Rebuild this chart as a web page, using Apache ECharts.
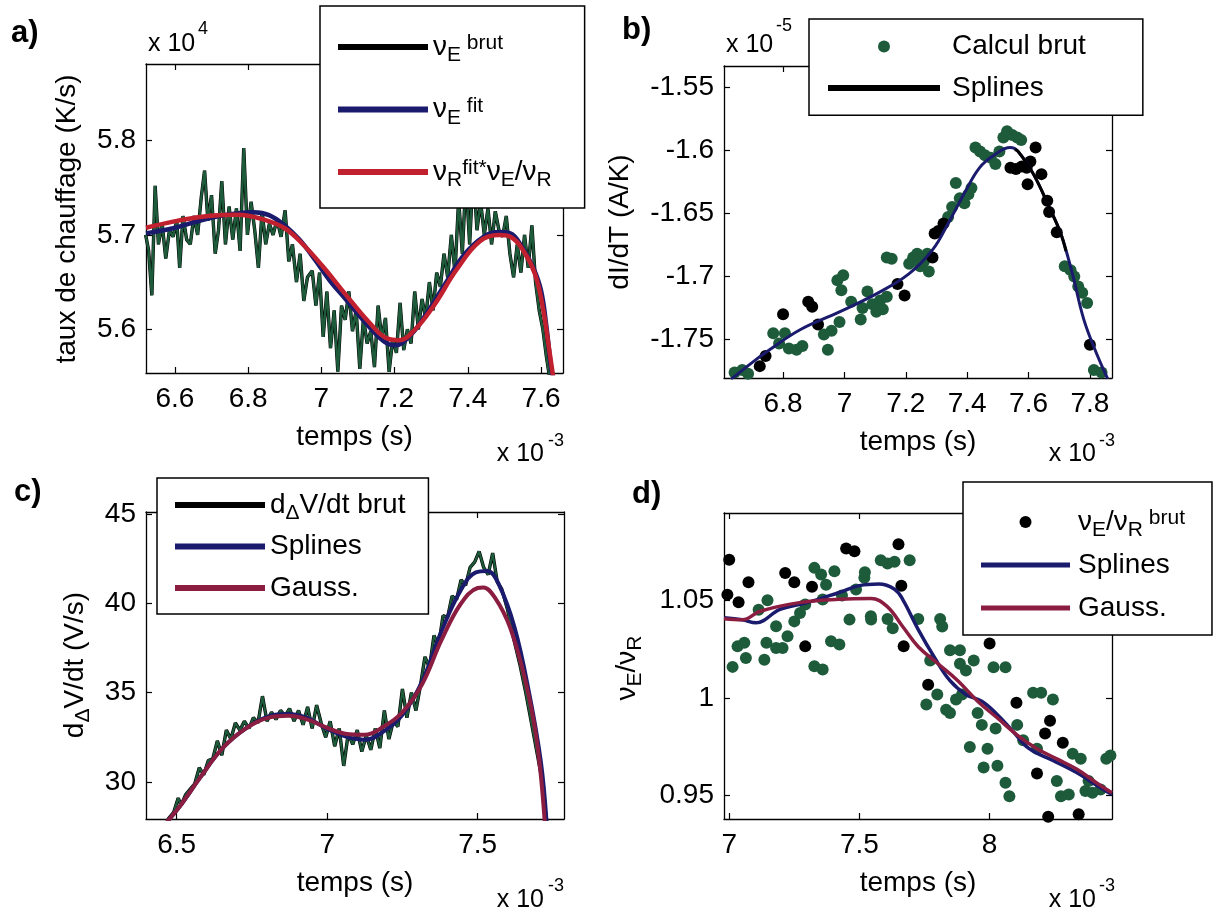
<!DOCTYPE html>
<html><head><meta charset="utf-8">
<script src="https://cdn.jsdelivr.net/npm/echarts@6/dist/echarts.min.js"></script>
<style>html,body{margin:0;padding:0;background:#fff}#c{width:1226px;height:909px}</style>
</head><body><div id="c"></div>
<script>
const FONT = '"Liberation Sans", Arial, Helvetica, sans-serif';

// ---------- Panel a : taux de chauffage (x 1e4 K/s) vs temps (x 1e-3 s)
const aTicksX = [6.6, 6.8, 7, 7.2, 7.4, 7.6];
const aTicksY = [5.6, 5.7, 5.8];
const aRaw = [[6.520,5.700],[6.528,5.684],[6.537,5.636],[6.546,5.752],[6.555,5.690],[6.565,5.712],[6.575,5.675],[6.585,5.705],[6.595,5.698],[6.605,5.715],[6.613,5.665],[6.622,5.720],[6.632,5.695],[6.642,5.690],[6.652,5.720],[6.662,5.700],[6.672,5.740],[6.681,5.768],[6.690,5.715],[6.700,5.742],[6.710,5.680],[6.719,5.705],[6.728,5.757],[6.738,5.690],[6.748,5.730],[6.758,5.695],[6.768,5.728],[6.778,5.683],[6.788,5.792],[6.798,5.700],[6.808,5.735],[6.818,5.705],[6.828,5.665],[6.838,5.725],[6.848,5.690],[6.858,5.712],[6.868,5.700],[6.879,5.716],[6.890,5.698],[6.901,5.726],[6.911,5.672],[6.921,5.690],[6.932,5.650],[6.942,5.680],[6.952,5.630],[6.962,5.655],[6.975,5.662],[6.985,5.625],[6.995,5.660],[7.005,5.592],[7.015,5.640],[7.025,5.580],[7.035,5.620],[7.045,5.555],[7.055,5.625],[7.065,5.610],[7.075,5.640],[7.085,5.598],[7.095,5.620],[7.105,5.558],[7.115,5.612],[7.125,5.585],[7.135,5.598],[7.145,5.560],[7.155,5.625],[7.165,5.590],[7.175,5.612],[7.185,5.555],[7.195,5.590],[7.205,5.575],[7.215,5.628],[7.225,5.578],[7.235,5.600],[7.245,5.585],[7.255,5.640],[7.265,5.600],[7.275,5.632],[7.285,5.612],[7.295,5.650],[7.305,5.620],[7.315,5.660],[7.325,5.645],[7.335,5.680],[7.345,5.655],[7.355,5.700],[7.365,5.660],[7.375,5.738],[7.385,5.680],[7.395,5.760],[7.405,5.690],[7.415,5.770],[7.425,5.705],[7.435,5.735],[7.445,5.700],[7.455,5.728],[7.465,5.690],[7.475,5.725],[7.485,5.705],[7.495,5.698],[7.505,5.720],[7.515,5.680],[7.525,5.655],[7.535,5.690],[7.545,5.660],[7.555,5.700],[7.565,5.665],[7.575,5.710],[7.585,5.650],[7.595,5.620],[7.605,5.600],[7.615,5.570],[7.625,5.545]];
const aFitE = [[6.521,5.7016],[6.595,5.707],[6.668,5.715],[6.752,5.722],[6.815,5.724],[6.857,5.721],[6.9,5.71],[6.94,5.695],[6.982,5.674],[7.024,5.651],[7.066,5.632],[7.118,5.608],[7.171,5.587],[7.202,5.583],[7.244,5.594],[7.286,5.616],[7.338,5.648],[7.39,5.679],[7.443,5.698],[7.485,5.703],[7.516,5.7016],[7.547,5.688],[7.579,5.665],[7.6,5.641],[7.615,5.602],[7.626,5.564],[7.632,5.550]];
const aFitR = [[6.521,5.7075],[6.595,5.714],[6.668,5.719],[6.731,5.721],[6.773,5.7214],[6.836,5.717],[6.9,5.707],[6.952,5.689],[7.003,5.667],[7.066,5.637],[7.129,5.608],[7.181,5.59],[7.212,5.5885],[7.254,5.599],[7.307,5.625],[7.369,5.663],[7.432,5.693],[7.485,5.6998],[7.516,5.698],[7.553,5.6825],[7.584,5.658],[7.605,5.623],[7.621,5.582],[7.633,5.550]];

// ---------- Panel b : dI/dT (x 1e-5 A/K)
const bTicksX = [6.8, 7, 7.2, 7.4, 7.6, 7.8];
const bTicksY = [-1.75, -1.7, -1.65, -1.6, -1.55];
const bGreen = [[6.642,-1.776],[6.667,-1.774],[6.686,-1.777],[6.768,-1.745],[6.787,-1.753],[6.806,-1.745],[6.819,-1.757],[6.844,-1.758],[6.863,-1.755],[6.933,-1.746],[6.946,-1.758],[6.958,-1.743],[6.984,-1.736],[6.977,-1.703],[6.996,-1.699],[6.99,-1.711],[7.022,-1.72],[7.053,-1.734],[7.059,-1.725],[7.075,-1.712],[7.091,-1.722],[7.104,-1.728],[7.116,-1.719],[7.125,-1.726],[7.138,-1.716],[7.138,-1.685],[7.154,-1.686],[7.211,-1.69],[7.224,-1.685],[7.237,-1.682],[7.247,-1.692],[7.259,-1.688],[7.275,-1.696],[7.27,-1.682],[7.338,-1.653],[7.351,-1.645],[7.363,-1.626],[7.376,-1.638],[7.391,-1.642],[7.404,-1.635],[7.414,-1.63],[7.427,-1.598],[7.442,-1.601],[7.458,-1.604],[7.477,-1.606],[7.492,-1.611],[7.505,-1.601],[7.518,-1.59],[7.53,-1.585],[7.547,-1.588],[7.563,-1.59],[7.576,-1.592],[7.718,-1.692],[7.737,-1.695],[7.749,-1.7],[7.762,-1.708],[7.775,-1.713],[7.791,-1.721],[7.813,-1.774],[7.838,-1.776]];
const bBlack = [[6.724,-1.771],[6.743,-1.763],[6.8,-1.73],[6.882,-1.72],[6.895,-1.724],[6.914,-1.738],[7.173,-1.706],[7.196,-1.715],[7.287,-1.685],[7.294,-1.666],[7.306,-1.664],[7.323,-1.658],[7.541,-1.614],[7.559,-1.615],[7.578,-1.613],[7.594,-1.614],[7.606,-1.609],[7.623,-1.598],[7.597,-1.627],[7.642,-1.619],[7.661,-1.64],[7.667,-1.649],[7.692,-1.665],[7.8,-1.754]];
const bSpline = [[6.63,-1.7815],[6.7,-1.768],[6.756,-1.758],[6.857,-1.742],[6.984,-1.728],[7.11,-1.713],[7.21,-1.698],[7.287,-1.679],[7.338,-1.658],[7.389,-1.635],[7.44,-1.614],[7.49,-1.6036],[7.54,-1.598],[7.566,-1.601],[7.616,-1.619],[7.667,-1.645],[7.705,-1.666],[7.743,-1.698],[7.78,-1.734],[7.82,-1.760],[7.858,-1.781]];
const bSplineDark = [[7.555,-1.5995],[7.566,-1.601],[7.616,-1.619],[7.667,-1.645],[7.705,-1.666],[7.722,-1.680]];

// ---------- Panel c : dΔV/dt (V/s)
const cTicksX = [6.5, 7, 7.5];
const cTicksY = [30, 35, 40, 45];
const cRaw = [[6.470,27.9],[6.490,28.3],[6.505,29.1],[6.515,28.7],[6.530,29.3],[6.545,29.6],[6.560,29.9],[6.575,30.8],[6.590,30.4],[6.605,31.2],[6.620,31.3],[6.635,32.3],[6.650,31.5],[6.665,32.9],[6.680,32.4],[6.695,33.3],[6.710,32.9],[6.725,33.4],[6.740,33.0],[6.755,33.6],[6.770,33.3],[6.785,34.8],[6.800,33.4],[6.815,33.9],[6.830,33.5],[6.845,34.0],[6.860,33.7],[6.875,34.1],[6.890,33.4],[6.905,34.0],[6.920,33.2],[6.935,34.2],[6.950,33.0],[6.965,34.3],[6.980,33.3],[6.995,32.5],[7.010,33.4],[7.025,32.0],[7.040,33.0],[7.055,30.9],[7.070,32.7],[7.085,32.1],[7.100,32.9],[7.115,31.7],[7.130,32.6],[7.145,31.8],[7.160,33.0],[7.175,31.9],[7.190,34.0],[7.205,32.4],[7.220,33.4],[7.235,33.1],[7.250,35.2],[7.265,33.6],[7.280,35.0],[7.295,34.0],[7.310,35.4],[7.325,37.0],[7.340,36.4],[7.355,38.2],[7.370,37.6],[7.385,39.3],[7.400,39.2],[7.415,40.4],[7.430,40.2],[7.445,41.3],[7.460,41.0],[7.475,42.0],[7.490,42.3],[7.505,42.9],[7.520,42.0],[7.535,41.6],[7.550,42.8],[7.565,41.2],[7.580,40.8],[7.600,39.6],[7.620,38.0],[7.640,36.6],[7.660,35.0],[7.680,33.2],[7.700,31.4],[7.715,30.0],[7.730,27.6]];
const cSpline = [[6.468,27.77],[6.513,28.7],[6.576,30.2],[6.653,31.9],[6.73,33.0],[6.806,33.67],[6.87,33.8],[6.933,33.58],[6.997,33.0],[7.06,32.55],[7.124,32.36],[7.188,32.83],[7.25,33.76],[7.315,35.6],[7.379,38.4],[7.443,40.7],[7.494,41.72],[7.532,41.8],[7.57,41.07],[7.623,38.63],[7.672,34.9],[7.71,31.14],[7.729,27.77]];
const cGauss = [[6.468,27.77],[6.513,28.7],[6.576,30.2],[6.653,31.9],[6.73,33.0],[6.806,33.6],[6.87,33.7],[6.933,33.5],[6.997,33.05],[7.06,32.7],[7.124,32.64],[7.188,33.1],[7.25,33.9],[7.315,35.45],[7.379,37.9],[7.443,39.94],[7.5,40.85],[7.519,40.88],[7.557,40.32],[7.608,38.63],[7.659,35.64],[7.697,32.27],[7.723,27.77]];

// ---------- Panel d : νE/νR
const dTicksX = [7, 7.5, 8];
const dTicksY = [0.95, 1, 1.05];
const dBlack = [[7.0,1.0708],[6.993,1.0529],[7.036,1.049],[7.074,1.0592],[7.215,1.064],[7.25,1.0592],[7.318,1.0569],[7.292,1.0264],[7.449,1.0765],[7.481,1.0751],[7.65,1.0787],[7.661,1.0575],[7.670,1.0265],[7.764,1.0067],[8.0,1.0279],[8.103,0.9975],[8.232,0.9883],[8.213,0.9818],[8.281,0.9771],[8.182,0.9613],[8.225,0.9392],[8.342,0.9404],[8.471,0.9444]];
const dGreen = [[7.013,1.0159],[7.032,1.0264],[7.058,1.0282],[7.064,1.0205],[7.113,1.0452],[7.147,1.05],[7.135,1.0196],[7.143,1.0282],[7.18,1.0367],[7.18,1.0256],[7.205,1.0256],[7.224,1.0316],[7.25,1.0392],[7.272,1.0435],[7.292,1.0478],[7.327,1.0666],[7.353,1.0632],[7.372,1.058],[7.404,1.0649],[7.327,1.0162],[7.359,1.0145],[7.391,1.029],[7.423,1.0273],[7.359,1.0504],[7.433,1.0524],[7.462,1.0401],[7.487,1.0555],[7.519,1.0615],[7.545,1.0401],[7.521,1.0644],[7.544,1.0418],[7.582,1.0705],[7.608,1.0688],[7.635,1.0697],[7.693,1.0705],[7.608,1.0404],[7.628,1.0357],[7.726,1.0404],[7.81,1.0404],[7.818,1.0366],[7.848,1.0244],[7.886,1.0244],[7.772,1.0192],[7.799,1.0018],[7.757,0.9966],[7.833,0.994],[7.848,0.9923],[7.886,1.0175],[7.909,1.014],[7.939,1.0192],[7.871,0.9992],[7.894,1.0018],[7.954,0.9923],[7.97,0.9862],[8.023,0.9844],[7.924,0.9749],[7.992,0.974],[7.977,0.9644],[8.03,0.9653],[8.015,1.0157],[8.061,1.0157],[8.061,0.9566],[8.076,0.9497],[8.106,0.9862],[8.129,0.9783],[8.182,0.974],[8.167,1.0027],[8.198,1.0027],[8.243,0.9992],[8.258,0.9575],[8.274,0.9497],[8.319,0.9714],[8.35,0.9688],[8.304,0.9505],[8.368,0.9523],[8.395,0.9514],[8.426,0.9531],[8.448,0.9688],[8.464,0.9705],[8.38,0.9575]];
const dSpline = [[6.98,1.041],[7.05,1.0400],[7.103,1.0385],[7.195,1.0453],[7.3,1.0488],[7.422,1.054],[7.5,1.0575],[7.574,1.0583],[7.635,1.0557],[7.666,1.0505],[7.726,1.035],[7.787,1.021],[7.848,1.0088],[7.909,1.0018],[7.97,0.9983],[8.03,0.9914],[8.091,0.9827],[8.152,0.974],[8.243,0.968],[8.334,0.9618],[8.395,0.9566],[8.47,0.9505]];
const dGauss = [[6.98,1.0405],[7.05,1.0400],[7.119,1.0444],[7.27,1.0488],[7.422,1.0505],[7.544,1.0509],[7.605,1.047],[7.666,1.0366],[7.726,1.0262],[7.802,1.0175],[7.878,1.0088],[7.954,0.9983],[8.03,0.9897],[8.106,0.981],[8.182,0.974],[8.258,0.9688],[8.334,0.9636],[8.41,0.9566],[8.47,0.9514]];

// ---------- styling / layout
const GREEN = '#1d5b3b', NAVY = '#1b1b6e', REDA = '#c1202e', REDC = '#8b1d40', BLACK = '#000';
const panels = [
  {grid:{left:146, top:64, width:417, height:309}, x:[6.521,7.66], y:[5.5537,5.881], tx:aTicksX, ty:aTicksY},
  {grid:{left:724, top:66, width:388, height:312}, x:[6.6075,7.872], y:[-1.7804,-1.5334], tx:bTicksX, ty:bTicksY},
  {grid:{left:146, top:512, width:418, height:307}, x:[6.398,7.787], y:[27.93,45.1], tx:cTicksX, ty:cTicksY},
  {grid:{left:724, top:513, width:388, height:306}, x:[6.98,8.47], y:[0.938,1.0947], tx:dTicksX, ty:dTicksY}
];

const axLine = {show:true, onZero:false, lineStyle:{color:BLACK, width:1.3}};
const tickStyle = {color:BLACK, width:1.2};
const labelText = {fontSize:28, color:BLACK, fontFamily:FONT};
const grids = [], xAxes = [], yAxes = [];
panels.forEach((p, i) => {
  grids.push(Object.assign({outerBoundsMode:'none', containLabel:false}, p.grid));
  xAxes.push({type:'value', gridIndex:i, position:'bottom', min:p.x[0], max:p.x[1],
    axisLine:axLine, splitLine:{show:false},
    axisTick:{show:true, inside:true, length:6, lineStyle:tickStyle, customValues:p.tx},
    axisLabel:Object.assign({show:true, margin:12, customValues:p.tx}, labelText),
    name:'temps (s)', nameLocation:'middle', nameGap:50, nameTextStyle:labelText});
  xAxes.push({type:'value', gridIndex:i, position:'top', min:p.x[0], max:p.x[1],
    axisLine:axLine, splitLine:{show:false},
    axisTick:{show:true, inside:true, length:6, lineStyle:tickStyle, customValues:p.tx},
    axisLabel:{show:false}});
  yAxes.push({type:'value', gridIndex:i, position:'left', min:p.y[0], max:p.y[1],
    axisLine:axLine, splitLine:{show:false},
    axisTick:{show:true, inside:true, length:6, lineStyle:tickStyle, customValues:p.ty},
    axisLabel:Object.assign({show:true, margin:10, customValues:p.ty}, labelText)});
  yAxes.push({type:'value', gridIndex:i, position:'right', min:p.y[0], max:p.y[1],
    axisLine:axLine, splitLine:{show:false},
    axisTick:{show:true, inside:true, length:6, lineStyle:tickStyle, customValues:p.ty},
    axisLabel:{show:false}});
});

function line(name, i, data, color, width, smooth, z) {
  return {type:'line', name, xAxisIndex:2*i, yAxisIndex:2*i, data, symbol:'none', showSymbol:false,
    smooth: smooth, lineStyle:{color, width}, itemStyle:{color}, z, silent:true, animation:false};
}
function dots(name, i, data, color, size, z) {
  return {type:'scatter', name, xAxisIndex:2*i, yAxisIndex:2*i, data, symbol:'circle', symbolSize:size,
    itemStyle:{color, opacity:1}, z, silent:true, animation:false};
}

const series = [
  line('a_brut', 0, aRaw, BLACK, 3.4, false, 2),
  line('a_brut_v', 0, aRaw, GREEN, 2.4, false, 3),
  line('a_fitE', 0, aFitE, NAVY, 4.5, 0.4, 4),
  line('a_fitR', 0, aFitR, REDA, 4.5, 0.4, 5),
  dots('b_calc', 1, bGreen, GREEN, 12, 2),
  dots('b_calc_n', 1, bBlack, BLACK, 12, 3),
  line('b_spl_bleu', 1, bSpline, NAVY, 3, 0.4, 4),
  line('b_spl', 1, bSplineDark, BLACK, 3, 0.4, 5),
  line('c_brut', 2, cRaw, BLACK, 3.4, false, 2),
  line('c_brut_v', 2, cRaw, GREEN, 2.2, false, 3),
  line('c_spl', 2, cSpline, NAVY, 4, 0.4, 4),
  line('c_gau', 2, cGauss, REDC, 4, 0.4, 5),
  dots('d_vert', 3, dGreen, GREEN, 12, 2),
  dots('d_brut', 3, dBlack, BLACK, 12, 3),
  line('d_spl', 3, dSpline, NAVY, 3.5, 0.4, 4),
  line('d_gau', 3, dGauss, REDC, 3.5, 0.4, 5)
];

// rich text: line box 38px, subscript hangs to the bottom, superscript slightly raised
const RICH = {
  n:{fontSize:28, lineHeight:38, fontFamily:FONT, color:BLACK, verticalAlign:'middle'},
  sb:{fontSize:21, lineHeight:21, fontFamily:FONT, color:BLACK, verticalAlign:'bottom'},
  sp:{fontSize:21, lineHeight:21, fontFamily:FONT, color:BLACK, verticalAlign:'top', padding:[5,0,0,0]},
  nb:{fontSize:28, lineHeight:38, fontFamily:FONT, color:BLACK, verticalAlign:'middle', padding:[0,0,0,7]},
  nd:{fontSize:28, lineHeight:38, fontFamily:FONT, color:BLACK, verticalAlign:'middle', padding:[0,0,0,3]}
};
const LABELS = {
  a_brut:'{n|ν}{sb|E}{sp| brut}',
  a_fitE:'{n|ν}{sb|E}{sp| fit}',
  a_fitR:'{n|ν}{sb|R}{sp|fit*}{n|ν}{sb|E}{n|/ν}{sb|R}',
  b_calc:'{nb|Calcul brut}',
  b_spl:'{nb|Splines}',
  c_brut:'{n|d}{sb|Δ}{n|V/dt brut}',
  c_spl:'{n|Splines}{sb| }',
  c_gau:'{n|Gauss.}{sb| }',
  d_brut:'{nd|ν}{sb|E}{n|/ν}{sb|R}{sp| brut}',
  d_spl:'{nd|Splines}{sb| }',
  d_gau:'{nd|Gauss.}{sb| }'
};
function legend(left, top, padding, gap, iw, ih, data) {
  return {orient:'vertical', left, top, padding, itemGap:gap, itemWidth:iw, itemHeight:ih,
    borderColor:BLACK, borderWidth:1.5, borderRadius:0, backgroundColor:'#fff', selectedMode:false,
    formatter:(n) => LABELS[n], textStyle:{fontFamily:FONT, fontSize:28, color:BLACK, rich:RICH}, data};
}
const legends = [
  legend(320, 6, [22,33,17,18], 24.5, 90, 6, [{name:'a_brut',icon:'rect'},{name:'a_fitE',icon:'rect'},{name:'a_fitR',icon:'rect'}]),
  legend(809, 19, [13.4,57,13.2,19], 13.6, 112, 12, [{name:'b_calc',icon:'circle'},{name:'b_spl',icon:'path://M0 0H112V6H0Z'}]),
  legend(157, 478, [13,23,7,18], 8.5, 90, 6, [{name:'c_brut',icon:'rect'},{name:'c_spl',icon:'rect'},{name:'c_gau',icon:'rect'}]),
  legend(963, 482, [21,27,8,18], 10, 89, 12, [{name:'d_brut',icon:'circle'},{name:'d_spl',icon:'path://M0 0H89V5H0Z'},{name:'d_gau',icon:'path://M0 0H89V5H0Z'}])
];

function txt(x, y, text, size, extra) {
  return Object.assign({type:'text', x, y, silent:true, z:100,
    style:Object.assign({text, fill:BLACK, fontSize:size, fontFamily:FONT, align:'left', verticalAlign:'middle',
      textAlign:'left', textVerticalAlign:'middle'}, (extra && extra.style) || {})},
    (extra && extra.el) || {});
}
const bold = {style:{fontWeight:'bold'}};
const right = {style:{align:'right', textAlign:'right'}};
function ytitle(x, y, text) {
  return {type:'text', x, y, rotation:Math.PI/2, silent:true, z:100,
    style:{text, rich:RICH, fill:BLACK, fontSize:28, fontFamily:FONT, align:'center', verticalAlign:'middle',
      textAlign:'center', textVerticalAlign:'middle'}};
}
const graphics = [
  txt(11, 33, 'a)', 31, bold), txt(622, 30, 'b)', 31, bold),
  txt(14, 492, 'c)', 31, bold), txt(632, 494, 'd)', 31, bold),
  // multipliers
  txt(148, 44, 'x 10', 25), txt(198, 29, '4', 18),
  txt(726, 45, 'x 10', 25), txt(776, 26, '-5', 18),
  txt(544, 454, 'x 10', 25, right), txt(564, 441, '-3', 18, right),
  txt(1096, 454, 'x 10', 25, right), txt(1115, 441, '-3', 18, right),
  txt(544, 900, 'x 10', 25, right), txt(564, 886, '-3', 18, right),
  txt(1096, 900, 'x 10', 25, right), txt(1115, 886, '-3', 18, right),
  // y titles
  ytitle(67, 219, '{n|taux de chauffage (K/s)}'),
  ytitle(620, 222, '{n|dI/dT (A/K)}'),
  ytitle(75, 665, '{n|d}{sb|Δ}{n|V/dt (V/s)}'),
  ytitle(627, 668, '{n|ν}{sb|E}{n|/ν}{sb|R}')
];

const chart = echarts.init(document.getElementById('c'), null, {renderer:'canvas'});
chart.setOption({
  animation:false,
  backgroundColor:'#fff',
  textStyle:{fontFamily:FONT},
  grid:grids, xAxis:xAxes, yAxis:yAxes,
  legend:legends, series, graphic:graphics
});
</script></body></html>
